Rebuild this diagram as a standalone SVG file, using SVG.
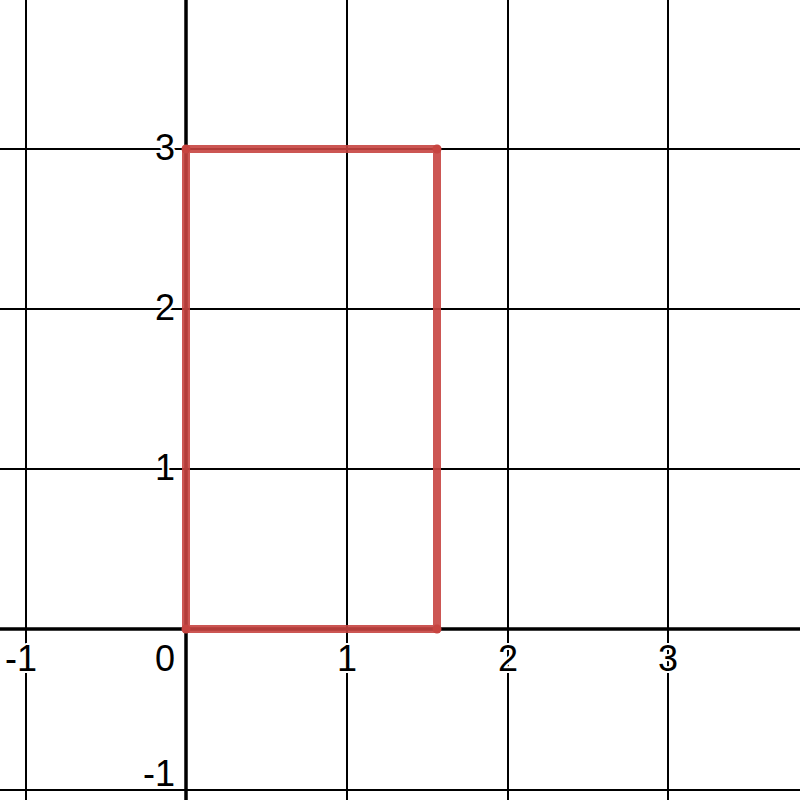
<svg xmlns="http://www.w3.org/2000/svg" width="800" height="800" viewBox="0 0 800 800">
<style>
.grid{stroke:#000;stroke-width:2;fill:none}
.axis{stroke:#000;stroke-width:3.5;fill:none}
.lbl{font-family:"Liberation Sans",Arial,sans-serif;font-size:36px;fill:#000;stroke:#fff;stroke-width:4;paint-order:stroke;stroke-linejoin:round}
.shape{stroke:#c74440;stroke-opacity:0.9;stroke-width:8;fill:none;stroke-linejoin:round}
.pt{fill:#c74440}
</style>
<rect width="800" height="800" fill="#fff"/>
<g id="grid">
<line class="grid" x1="26" y1="0" x2="26" y2="800"/>
<line class="grid" x1="347" y1="0" x2="347" y2="800"/>
<line class="grid" x1="508" y1="0" x2="508" y2="800"/>
<line class="grid" x1="668" y1="0" x2="668" y2="800"/>
<line class="grid" x1="0" y1="149" x2="800" y2="149"/>
<line class="grid" x1="0" y1="309" x2="800" y2="309"/>
<line class="grid" x1="0" y1="469" x2="800" y2="469"/>
<line class="grid" x1="0" y1="790" x2="800" y2="790"/>
</g>
<g id="labels">
<text class="lbl" x="5" y="671">-1</text>
<text class="lbl" x="175" y="671" text-anchor="end">0</text>
<text class="lbl" x="347" y="671" text-anchor="middle">1</text>
<text class="lbl" x="508" y="671" text-anchor="middle">2</text>
<text class="lbl" x="668" y="671" text-anchor="middle">3</text>
<text class="lbl" x="175" y="160" text-anchor="end">3</text>
<text class="lbl" x="175" y="320" text-anchor="end">2</text>
<text class="lbl" x="175" y="480" text-anchor="end">1</text>
<text class="lbl" x="175" y="786" text-anchor="end">-1</text>
</g>
<g id="axes">
<line class="axis" x1="186" y1="0" x2="186" y2="800"/>
<line class="axis" x1="0" y1="629" x2="800" y2="629"/>
</g>
<g id="rectangle">
<polygon class="shape" points="186,629 437,629 437,149 186,149"/>
<circle class="pt" cx="186" cy="629" r="4.5"/>
<circle class="pt" cx="437" cy="629" r="4.5"/>
<circle class="pt" cx="437" cy="149" r="4.5"/>
<circle class="pt" cx="186" cy="149" r="4.5"/>
</g>
</svg>
